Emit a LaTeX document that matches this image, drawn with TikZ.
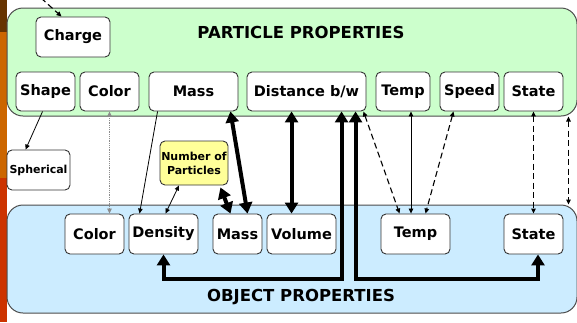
\documentclass[tikz,border=0pt]{standalone}
\usepackage{fontspec}
\setmainfont{DejaVu Sans}
\usetikzlibrary{calc,arrows.meta}
\definecolor{partbg}{RGB}{204,255,204}
\definecolor{objbg}{RGB}{204,236,255}
\definecolor{numbg}{RGB}{255,255,153}
\definecolor{barbrown}{RGB}{102,51,0}
\definecolor{barorange}{RGB}{204,102,0}
\definecolor{barred}{RGB}{204,51,0}
\tikzset{
  prop/.style={draw=black!80,fill=white,rounded corners=5pt,line width=0.9pt,inner sep=0pt,
    minimum height=40pt,font=\fontsize{14.5}{16}\selectfont\bfseries},
  smallprop/.style={prop,font=\fontsize{11}{14}\selectfont\bfseries,align=center},
  group/.style={draw=black!70,line width=1pt,rounded corners=16pt,inner sep=0pt,
    minimum width=570pt,minimum height=108pt},
  heading/.style={font=\fontsize{16.5}{18}\selectfont\bfseries},
  link/.style={line width=0.8pt,>={Triangle[length=5pt,width=4.5pt]}},
  dlink/.style={link,line width=1.1pt,dash pattern=on 6pt off 3.5pt},
  heavy/.style={line width=4pt,{Triangle[length=11pt,width=13pt]}-{Triangle[length=11pt,width=13pt]}},
}

\begin{document}
\begin{tikzpicture}[x=1pt,y=-1pt]
  \useasboundingbox (0,0) rectangle (577,322);
  % side bar
  \fill[barbrown] (0,0) rectangle (7,32);
  \fill[barorange] (0,32) rectangle (7,178);
  \fill[barred] (0,178) rectangle (7,322);

  % the two groups
  \node[group,fill=partbg] (pbox) at (292,62) {};
  \node[group,fill=objbg] (obox) at (292,259) {};
  \node[heading] (ptitle) at (301,32) {PARTICLE PROPERTIES};
  \node[heading] (otitle) at (301,297) {OBJECT PROPERTIES};

  % particle properties
  \node[prop,minimum width=74pt] (charge) at (73,37) {Charge};
  \node[prop,minimum width=59pt,minimum height=39pt] (shape) at (45.5,91.5) {Shape};
  \node[prop,minimum width=59pt,minimum height=39pt] (pcolor) at (109.5,91.5) {Color};
  \node[prop,minimum width=89pt,minimum height=39pt] (pmass) at (193.5,91.5) {Mass};
  \node[prop,minimum width=119pt,minimum height=39pt] (dist) at (306.5,91.5) {Distance b/w};
  \node[prop,minimum width=54pt,minimum height=39pt] (ptemp) at (403,91.5) {Temp};
  \node[prop,minimum width=59pt,minimum height=39pt] (speed) at (469.5,91.5) {Speed};
  \node[prop,minimum width=59pt,minimum height=39pt] (pstate) at (533.5,91.5) {State};

  % in between
  \node[smallprop,minimum width=63pt] (spher) at (38.5,170) {Spherical};
  \node[smallprop,fill=numbg,minimum width=68pt,minimum height=44pt] (nop) at (194,163) {Number of\\Particles};

  % object properties
  \node[prop,minimum width=59pt] (ocolor) at (94.5,234) {Color};
  \node[prop,minimum width=69pt] (density) at (163.5,234) {Density};
  \node[prop,minimum width=49pt] (omass) at (237.5,234) {Mass};
  \node[prop,minimum width=69pt] (volume) at (301.5,234) {Volume};
  \node[prop,minimum width=69pt] (otemp) at (415.5,234) {Temp};
  \node[prop,minimum width=59pt] (ostate) at (533.5,234) {State};

  % connectors
  \coordinate (chgsrc) at (41,-2);
  \coordinate (dv) at ($(dist.south west)+(45,0)$);
  \coordinate (tt) at ($(ptemp.south)+(8,0)$);
  \draw[dlink,->] (chgsrc) -- ($(charge.north west)+(26,0)$);
  \draw[link,->] ($(shape.south west)+(27,0)$) -- ($(spher.north west)+(19,0)$);
  \draw[link,<->,densely dotted,black!45] (pcolor.south) -- (pcolor.south |- ocolor.north);
  \draw[link,->] ($(pmass.south west)+(9,0)$) -- ($(density.north west)+(11,0)$);
  \draw[link,<->] ($(nop.south)+(-15,0)$) -- ($(density.north)+(2,0)$);
  \draw[heavy] ($(nop.south east)+(-8,2)$) -- ($(omass.north west)+(18,0)$);
  \draw[heavy] ($(pmass.south east)+(-8,0)$) -- ($(omass.north)+(10,0)$);
  \draw[heavy] (dv) -- (dv |- volume.north);
  \draw[heavy] ($(dist.south west)+(95,0)$) |- ($(density.south)+(0,25)$) -- (density.south);
  \draw[heavy] ($(dist.south west)+(109,0)$) |- ($(ostate.south)+(4.5,25)$) -- ($(ostate.south)+(4.5,0)$);
  \draw[dlink,<->] ($(dist.south east)+(-3,0)$) -- ($(otemp.north west)+(19,0)$);
  \draw[link,<->] (tt) -- (tt |- otemp.north);
  \draw[dlink,<->] ($(speed.south)+(-16,0)$) -- ($(otemp.north)+(10,0)$);
  \draw[dlink,<->] (pstate.south) -- (ostate.north);
  \draw[dlink,<->] ($(pbox.south east)+(-9,0)$) -- ($(obox.north east)+(-9,0)$);
\end{tikzpicture}
\end{document}
